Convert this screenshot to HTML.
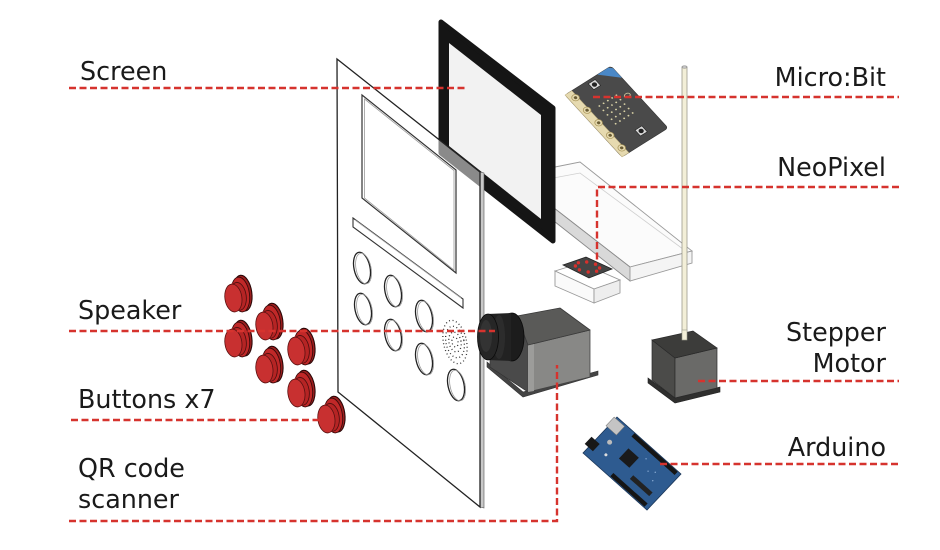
<!DOCTYPE html>
<html><head><meta charset="utf-8"><style>
html,body{margin:0;padding:0;background:#fff;}
svg{display:block;}
text{font-family:"DejaVu Sans","Liberation Sans",sans-serif;font-size:25.4px;fill:#1a1a1a;}
</style></head><body>
<svg width="940" height="550" viewBox="0 0 940 550" xmlns="http://www.w3.org/2000/svg">
<rect width="940" height="550" fill="#fff"/>

<!-- Tray (acrylic) -->
<polygon points="545,169 580,162 692,251 630,267 545,201" fill="#fbfbfb" stroke="#9a9a9a" stroke-width="0.9"/>
<polyline points="548,179 580,173 687,252" fill="none" stroke="#cfcfcf" stroke-width="0.8"/>
<polygon points="545,201 630,267 630,281 545,214" fill="#d9d9d9" stroke="#8a8a8a" stroke-width="0.9"/>
<polygon points="630,267 692,251 692,263 630,281" fill="#f4f4f4" stroke="#9a9a9a" stroke-width="0.9"/>

<!-- small holder -->
<polygon points="555,271 581,263 620,280 594,289" fill="#fff" stroke="#999" stroke-width="0.9"/>
<polygon points="555,271 594,289 594,303 555,286" fill="#fafafa" stroke="#999" stroke-width="0.9"/>
<polygon points="594,289 620,280 620,293 594,303" fill="#eeeeee" stroke="#999" stroke-width="0.9"/>
<!-- neopixel board -->
<polygon points="563,265 586,257 612,269 589,278" fill="#454545" stroke="#222" stroke-width="0.8"/>
<g fill="#d8302c">
<circle cx="595.5" cy="264.2" r="1.7"/><circle cx="599.6" cy="268" r="1.7"/><circle cx="596.6" cy="271.2" r="1.7"/><circle cx="588.2" cy="272" r="1.7"/>
<circle cx="579.4" cy="269.8" r="1.7"/><circle cx="575.4" cy="266" r="1.7"/><circle cx="578.4" cy="262.8" r="1.7"/><circle cx="586.7" cy="262" r="1.7"/>
</g>

<!-- pole -->
<rect x="682" y="67" width="5" height="272" fill="#f3efd8" stroke="#9c9a8c" stroke-width="0.8"/>
<ellipse cx="684.5" cy="67" rx="2.5" ry="1.2" fill="#ccc" stroke="#888" stroke-width="0.6"/>

<!-- stepper motor -->
<polygon points="648,378 675,398 720,387 720,392 675,403 648,383" fill="#2f2f2e" stroke="#222" stroke-width="0.6"/>
<polygon points="652,340 675,358 675,398 652,380" fill="#4b4b49" stroke="#2a2a2a" stroke-width="0.7"/>
<polygon points="675,358 717,348 717,388 675,398" fill="#6a6a68" stroke="#2a2a2a" stroke-width="0.7"/>
<polygon points="652,340 693,331 717,348 675,358" fill="#3c3c3a" stroke="#2a2a2a" stroke-width="0.7"/>
<rect x="682" y="330" width="5" height="10" fill="#f3efd8" stroke="#9c9a8c" stroke-width="0.6"/>

<!-- micro:bit -->
<g transform="matrix(0.852,-0.537,0.679,0.738,565,95)">
<rect x="0" y="0" width="54" height="84" rx="3" fill="#4a4a4a" stroke="#333" stroke-width="0.6"/>
<polygon points="38,0 51,0 54,3 54,16" fill="#4a88c7"/>
<rect x="0" y="0" width="8" height="84" fill="#e6dab0" stroke="#b8a878" stroke-width="0.5"/>
<g fill="#e6dab0" stroke="#a89458" stroke-width="0.7">
<circle cx="6" cy="8" r="3.5"/><circle cx="6" cy="25" r="3.5"/><circle cx="6" cy="42" r="3.5"/><circle cx="6" cy="59" r="3.5"/><circle cx="6" cy="76" r="3.5"/>
</g>
<g fill="#6b5d35"><circle cx="6" cy="8" r="1.6"/><circle cx="6" cy="25" r="1.6"/><circle cx="6" cy="42" r="1.6"/><circle cx="6" cy="59" r="1.6"/><circle cx="6" cy="76" r="1.6"/></g>
<g fill="#d9d2a6">
<circle cx="18" cy="28" r="0.9"/><circle cx="23" cy="28" r="0.9"/><circle cx="28" cy="28" r="0.9"/><circle cx="33" cy="28" r="0.9"/><circle cx="38" cy="28" r="0.9"/>
<circle cx="18" cy="34" r="0.9"/><circle cx="23" cy="34" r="0.9"/><circle cx="28" cy="34" r="0.9"/><circle cx="33" cy="34" r="0.9"/><circle cx="38" cy="34" r="0.9"/>
<circle cx="18" cy="40" r="0.9"/><circle cx="23" cy="40" r="0.9"/><circle cx="28" cy="40" r="0.9"/><circle cx="33" cy="40" r="0.9"/><circle cx="38" cy="40" r="0.9"/>
<circle cx="18" cy="46" r="0.9"/><circle cx="23" cy="46" r="0.9"/><circle cx="28" cy="46" r="0.9"/><circle cx="33" cy="46" r="0.9"/><circle cx="38" cy="46" r="0.9"/>
<circle cx="18" cy="52" r="0.9"/><circle cx="23" cy="52" r="0.9"/><circle cx="28" cy="52" r="0.9"/><circle cx="33" cy="52" r="0.9"/><circle cx="38" cy="52" r="0.9"/>
</g>
<ellipse cx="46" cy="34" rx="3" ry="2.2" fill="none" stroke="#d9d2a6" stroke-width="0.8"/>
<rect x="25" y="3" width="8" height="8" fill="#d8d8d8" stroke="#222" stroke-width="0.6"/><circle cx="29" cy="7" r="2.4" fill="#222"/>
<rect x="28" y="68" width="8" height="8" fill="#d8d8d8" stroke="#222" stroke-width="0.6"/><circle cx="32" cy="72" r="2.4" fill="#222"/>
</g>

<!-- screen bezel -->
<polygon points="441,22 553,108 553,241 441,153" fill="#151515" stroke="#151515" stroke-width="5" stroke-linejoin="round"/>
<polygon points="449,43 541,115 541,219 449,146" fill="#f2f2f2"/>

<!-- front panel -->
<polygon points="480,172 484,173 484,508 480,507" fill="#c8c8c8" stroke="#555" stroke-width="0.6"/>
<polygon points="337,59 480,172 480,507 338,392" fill="#fff" fill-opacity="0.5" stroke="#222" stroke-width="1.3"/>
<polygon points="362,95 456,170 456,273 362,198" fill="none" stroke="#333" stroke-width="1.2"/>
<polygon points="364.5,99 454,170.5 454,270 364.5,198" fill="none" stroke="#9a9a9a" stroke-width="0.8"/>
<polygon points="353,218 463,299 463,308 353,227" fill="none" stroke="#333" stroke-width="1.1"/>
<polyline points="355,220 461,298" fill="none" stroke="#aaa" stroke-width="0.8"/>
<g fill="none">
<g stroke="#222" stroke-width="1.3">
<ellipse cx="362" cy="268" rx="8" ry="16" transform="rotate(-12 362 268)"/>
<ellipse cx="393" cy="291" rx="8" ry="16" transform="rotate(-12 393 291)"/>
<ellipse cx="363" cy="309" rx="8" ry="16" transform="rotate(-12 363 309)"/>
<ellipse cx="424" cy="316" rx="8" ry="16" transform="rotate(-12 424 316)"/>
<ellipse cx="393" cy="335" rx="8" ry="16" transform="rotate(-12 393 335)"/>
<ellipse cx="424" cy="359" rx="8" ry="16" transform="rotate(-12 424 359)"/>
<ellipse cx="456" cy="385" rx="8" ry="16" transform="rotate(-12 456 385)"/>
</g>
<g stroke="#999" stroke-width="0.8">
<ellipse cx="363.6" cy="268.5" rx="7.5" ry="15.5" transform="rotate(-12 363.6 268.5)"/>
<ellipse cx="394.6" cy="291.5" rx="7.5" ry="15.5" transform="rotate(-12 394.6 291.5)"/>
<ellipse cx="364.6" cy="309.5" rx="7.5" ry="15.5" transform="rotate(-12 364.6 309.5)"/>
<ellipse cx="425.6" cy="316.5" rx="7.5" ry="15.5" transform="rotate(-12 425.6 316.5)"/>
<ellipse cx="394.6" cy="335.5" rx="7.5" ry="15.5" transform="rotate(-12 394.6 335.5)"/>
<ellipse cx="425.6" cy="359.5" rx="7.5" ry="15.5" transform="rotate(-12 425.6 359.5)"/>
<ellipse cx="457.6" cy="385.5" rx="7.5" ry="15.5" transform="rotate(-12 457.6 385.5)"/>
</g>
<!-- speaker grille -->
<g stroke="#333" stroke-width="1.3" stroke-dasharray="1 2.6" transform="rotate(-12 455 342)">
<ellipse cx="455" cy="342" rx="3" ry="5"/>
<ellipse cx="455" cy="342" rx="6" ry="10"/>
<ellipse cx="455" cy="342" rx="9" ry="16"/>
<ellipse cx="455" cy="342" rx="11.5" ry="22"/>
</g>
</g>

<!-- buttons -->
<defs>
<g id="btn">
<ellipse cx="6" cy="-1" rx="9" ry="18" fill="#9e1e1e" stroke="#2a0808" stroke-width="1.1"/>
<ellipse cx="3.5" cy="0" rx="9" ry="17.5" fill="#c02828" stroke="#3a0a0a" stroke-width="0.9"/>
<path d="M -4,-12 L 2,-14 L 2,16 L -4,16 Z" fill="#b82525"/>
<ellipse cx="1" cy="1.5" rx="8" ry="14" fill="#b52424" stroke="#4a0e0e" stroke-width="0.8"/>
<ellipse cx="-4" cy="2.5" rx="8.5" ry="14" fill="#c83030" stroke="#5a1111" stroke-width="0.8"/>
</g>
</defs>
<use href="#btn" transform="translate(237,295) rotate(-8)"/>
<use href="#btn" transform="translate(268,323) rotate(-8)"/>
<use href="#btn" transform="translate(237,340) rotate(-8)"/>
<use href="#btn" transform="translate(300,348) rotate(-8)"/>
<use href="#btn" transform="translate(268,366) rotate(-8)"/>
<use href="#btn" transform="translate(300,390) rotate(-8)"/>
<use href="#btn" transform="translate(330,416) rotate(-8)"/>

<!-- QR scanner -->
<polygon points="487,362 523,392 598,371 598,375 523,397 487,367" fill="#444" stroke="#333" stroke-width="0.6"/>
<polygon points="517,316 528,345 528,392 490,367 490,328" fill="#4a4a4a" stroke="#333" stroke-width="0.7"/>
<polygon points="528,345 590,330 590,377 528,392" fill="#888886" stroke="#444" stroke-width="0.8"/>
<polygon points="528,345 534,344 534,391 528,392" fill="#9c9c9a"/>
<polygon points="517,316 560,308 590,330 528,345" fill="#5a5a58" stroke="#3a3a3a" stroke-width="0.8" stroke-linejoin="round"/>
<ellipse cx="512" cy="337" rx="12" ry="24" fill="#1c1c1c" stroke="#0a0a0a" stroke-width="0.8"/>
<path d="M487,314 L511,313 L511,361 L487,360 Z" fill="#222"/>
<ellipse cx="499" cy="337" rx="6" ry="22" fill="#333" opacity="0.6"/>
<ellipse cx="488" cy="337" rx="10.5" ry="23" fill="#262626" stroke="#0a0a0a" stroke-width="0.8"/>
<ellipse cx="486" cy="336" rx="6" ry="16" fill="#333"/>

<!-- Arduino -->
<g transform="matrix(0.68,-0.72,0.744,0.663,583,453)">
<rect x="0" y="0" width="50" height="86" fill="#2e5b90" stroke="#1b3658" stroke-width="0.8"/>
<rect x="45" y="24" width="4.5" height="58" fill="#151515"/>
<rect x="0.8" y="36" width="4.5" height="46" fill="#151515"/>
<rect x="36" y="-2" width="12" height="14" fill="#c4c4c4" stroke="#777" stroke-width="0.5"/>
<rect x="8" y="-5" width="10" height="11" fill="#181818"/>
<rect x="20" y="30" width="14" height="14" fill="#1a1a1a"/>
<rect x="12" y="52" width="5" height="26" fill="#222"/>
<circle cx="26" cy="12" r="2.5" fill="#bbb"/>
<circle cx="14" cy="18" r="1.5" fill="#ddd"/>
<g fill="#8fb0d8"><circle cx="30" cy="60" r="0.7"/><circle cx="34" cy="66" r="0.7"/><circle cx="26" cy="70" r="0.7"/><circle cx="38" cy="50" r="0.7"/></g>
</g>

<!-- dashed leader lines -->
<g fill="none" stroke="#d6332e" stroke-width="2.4" stroke-dasharray="7 3.5">
<polyline points="69,88 468,88"/>
<polyline points="593,97 899,97"/>
<polyline points="899,187 597,187 597,262"/>
<polyline points="69,331 495,331"/>
<polyline points="71,420 321,420"/>
<polyline points="69,521 557,521 557,365"/>
<polyline points="698,381 899,381"/>
<polyline points="660,464 899,464"/>
</g>

<!-- labels -->
<text x="80" y="80">Screen</text>
<text x="78" y="319">Speaker</text>
<text x="78" y="408">Buttons x7</text>
<text x="78" y="477">QR code</text>
<text x="78" y="508">scanner</text>
<g text-anchor="end">
<text x="886" y="86">Micro:Bit</text>
<text x="886" y="176">NeoPixel</text>
<text x="886" y="341">Stepper</text>
<text x="886" y="372">Motor</text>
<text x="886" y="456">Arduino</text>
</g>
</svg>
</body></html>
